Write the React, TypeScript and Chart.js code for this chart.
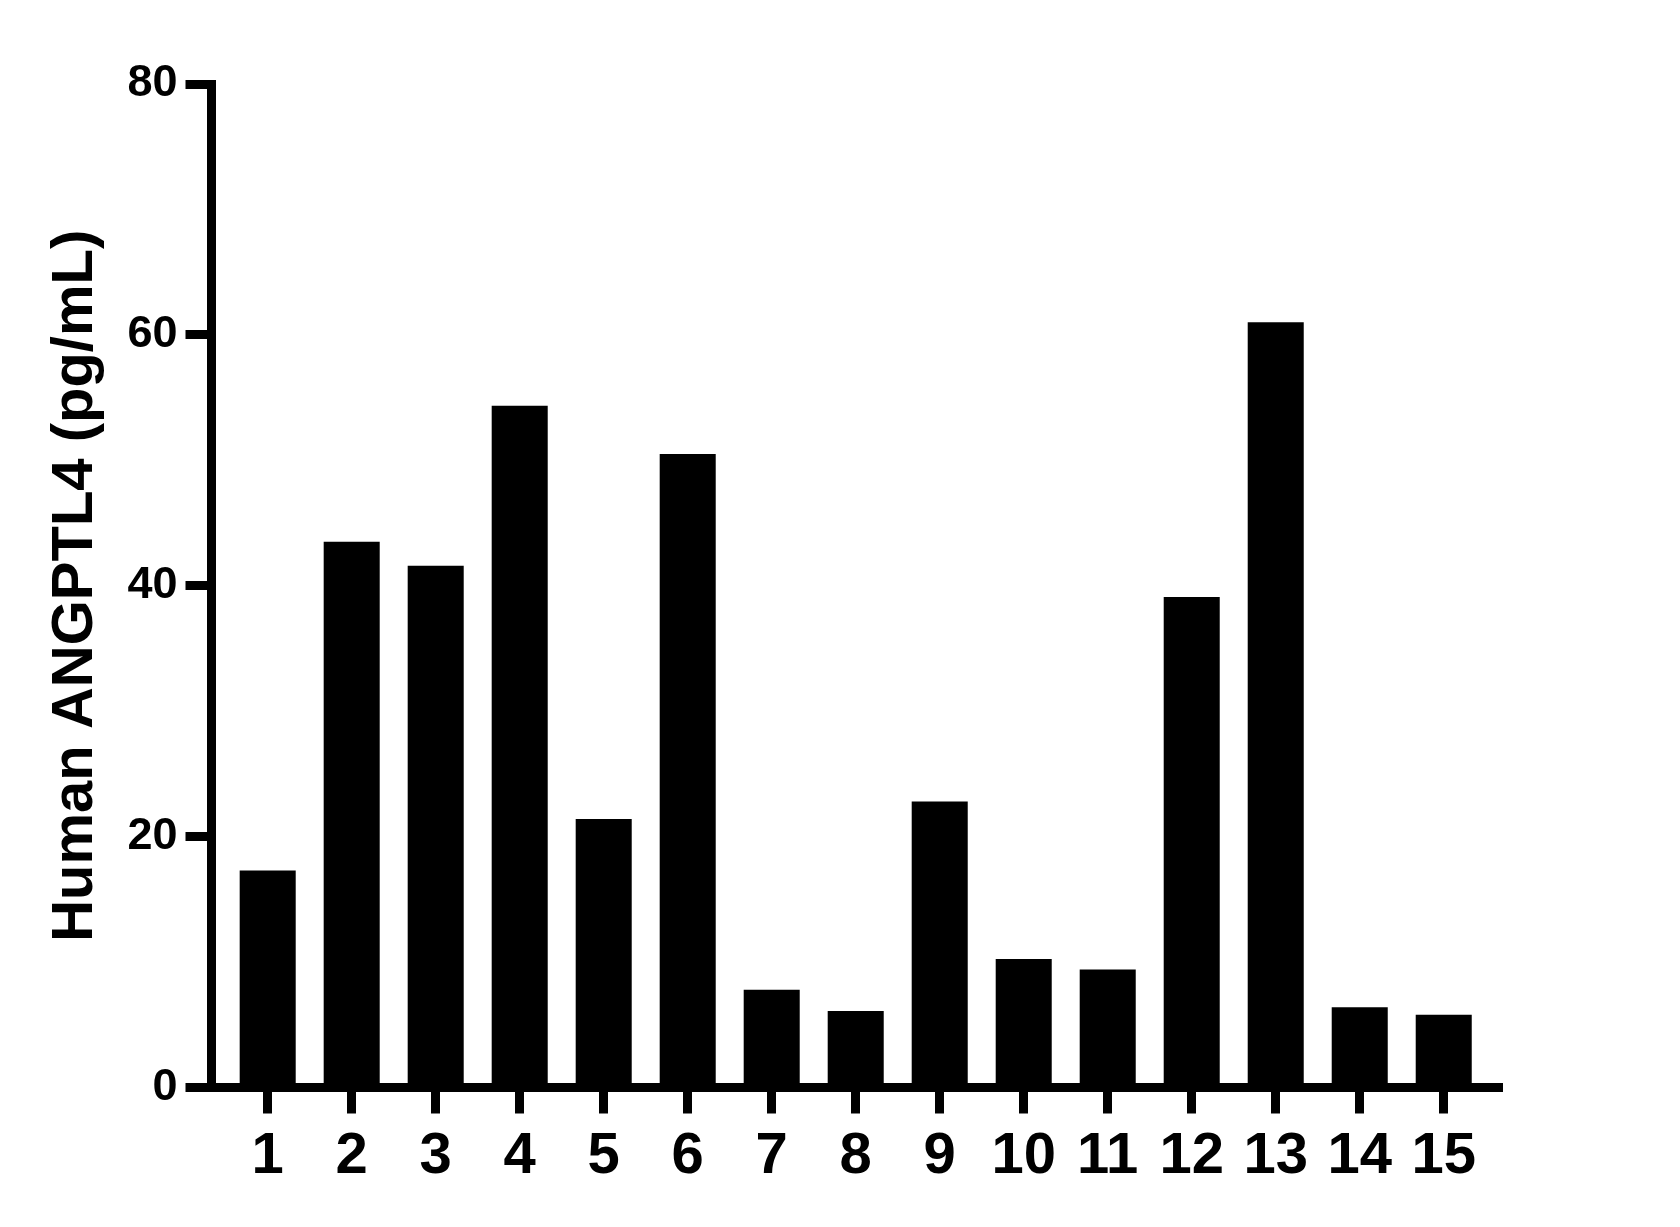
import React, { useEffect, useRef } from "react";
import { Chart, registerables } from "chart.js";

Chart.register(...registerables);

const categories = [1, 2, 3, 4, 5, 6, 7, 8, 9, 10, 11, 12, 13, 14, 15];
const values = [17.3, 43.5, 41.6, 54.35, 21.4, 50.5, 7.8, 6.1, 22.8, 10.25, 9.4, 39.1, 61.0, 6.4, 5.8];
const yTicks = [0, 20, 40, 60, 80];
const yTitle = "Human ANGPTL4 (pg/mL)";

const FONT = "'Liberation Sans', Arial, Helvetica, sans-serif";

export default function App() {
  const ref = useRef<HTMLCanvasElement | null>(null);

  useEffect(() => {
    if (!ref.current) return;
    const chart = new Chart(ref.current, {
      type: "bar",
      data: {
        datasets: [
          {
            data: categories.map((c, i) => ({ x: c, y: values[i] })),
            backgroundColor: "#000",
            borderWidth: 0,
            barPercentage: 0.667,
            categoryPercentage: 1,
          } as any,
        ],
      },
      options: {
        animation: false,
        responsive: false,
        maintainAspectRatio: false,
        devicePixelRatio: 1,
        layout: { padding: { top: 84, right: 181.5, bottom: 0, left: 0 } },
        plugins: { legend: { display: false }, tooltip: { enabled: false } },
        scales: {
          x: {
            type: "linear",
            offset: false,
            min: 0.331,
            max: 15.652,
            afterBuildTicks: (s: any) => {
              s.ticks = categories.map((v) => ({ value: v }));
            },
            afterFit: (s: any) => {
              s.height = 139.5;
            },
            border: { display: true, color: "#000", width: 9 },
            grid: {
              offset: false,
              drawOnChartArea: false,
              drawTicks: true,
              tickLength: 26,
              tickWidth: 9,
              tickColor: "#000",
              lineWidth: 9,
              color: "#000",
            },
            ticks: {
              color: "#000",
              font: { family: FONT, weight: "bold", size: 58 },
              padding: 9,
              autoSkip: false,
              maxRotation: 0,
              minRotation: 0,
            },
          },
          y: {
            min: 0,
            max: 80,
            afterBuildTicks: (s: any) => {
              s.ticks = yTicks.map((v) => ({ value: v }));
            },
            afterFit: (s: any) => {
              s.width = 211.5;
            },
            border: { display: true, color: "#000", width: 9 },
            grid: {
              drawOnChartArea: false,
              drawTicks: true,
              tickLength: 26,
              tickWidth: 9,
              tickColor: "#000",
              lineWidth: 9,
              color: "#000",
            },
            ticks: {
              color: "#000",
              font: { family: FONT, weight: "bold", size: 45 },
              padding: 8,
              autoSkip: false,
            },
            title: {
              display: true,
              text: yTitle,
              color: "#000",
              font: { family: FONT, weight: "bold", size: 58 },
              padding: { top: 41, bottom: 0 },
            },
          },
        },
      } as any,
    });
    return () => chart.destroy();
  }, []);

  return (
    <div style={{ position: "absolute", left: 0, top: 0, width: 1680, height: 1227, background: "#fff" }}>
      <canvas ref={ref} width={1680} height={1227} style={{ width: 1680, height: 1227, display: "block" }} />
    </div>
  );
}
